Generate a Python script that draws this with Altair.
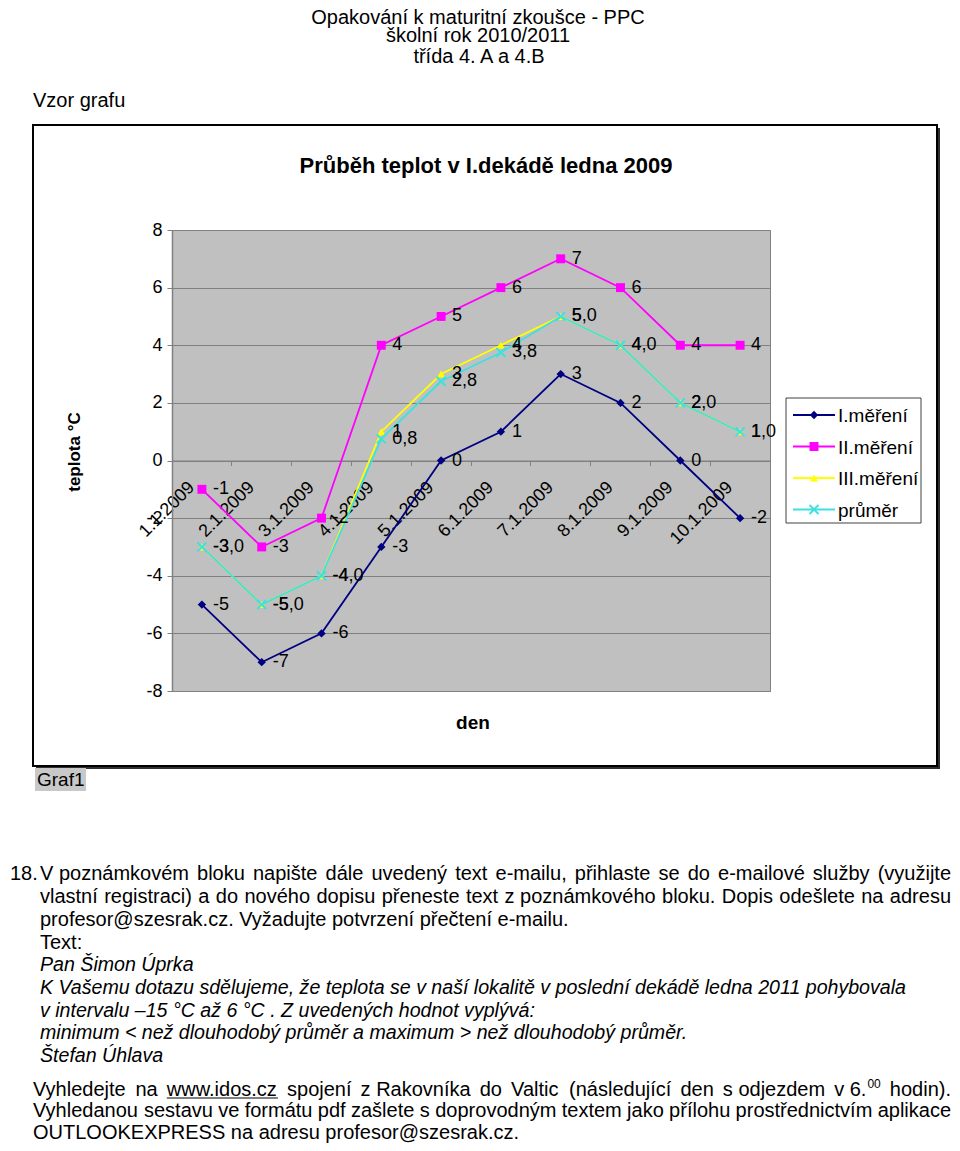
import altair as alt
import pandas as pd

# ---------------- data ----------------
days = ["1.1.2009", "2.1.2009", "3.1.2009", "4.1.2009", "5.1.2009",
        "6.1.2009", "7.1.2009", "8.1.2009", "9.1.2009", "10.1.2009"]
series_names = ["I.měření", "II.měření", "III.měření", "průměr"]
mereni_1 = [-5, -7, -6, -3, 0, 1, 3, 2, 0, -2]
mereni_2 = [-1, -3, -2, 4, 5, 6, 7, 6, 4, 4]
mereni_3 = [-3, -5, -4, 1, 3, 4, 5, 4, 2, 1]
prumer = [-3.0, -5.0, -4.0, 0.75, 2.75, 3.75, 5.0, 4.0, 2.0, 1.0]
y_ticks = [-8, -6, -4, -2, 0, 2, 4, 6, 8]

colors = ["#000080", "#FF00FF", "#FFFF00", "#3EE0E0"]
X_PATH = "M-1,-1L1,1M-1,1L1,-1"
shapes = ["diamond", "square", "triangle-up", X_PATH]
sizes = [70, 80, 65, 80]
filled = [True, True, True, False]

FONT = "Liberation Sans"

rows = []
for k, (name, vals) in enumerate(zip(series_names, [mereni_1, mereni_2, mereni_3, prumer])):
    for d, v in zip(days, vals):
        lab = (f"{v:.1f}".replace(".", ",")) if name == "průměr" else str(int(v))
        rows.append({"day": d, "series": name, "value": v, "label": lab, "k": k})
df = pd.DataFrame(rows)
dummy = pd.DataFrame({"a": [0]})

# ---------------- geometry (page pixels -> plot-relative) ----------------
P0X, P0Y = 172, 230
W, H = 598, 461
TOTAL_W, TOTAL_H = 944, 1135
RIGHT = 951  # right edge of justified text (page px)


def px(x):
    return x - P0X


def py(y):
    return y - P0Y


X = alt.X("day:N", sort=days,
          scale=alt.Scale(type="band", paddingInner=0, paddingOuter=0),
          axis=alt.Axis(orient="bottom", offset=-H / 2, labelAngle=315,
                        labelAlign="right", labelBaseline="middle",
                        labelFontSize=18, labelFont=FONT, labelColor="black",
                        labelPadding=19, labelOffset=-10, bandPosition=0,
                        tickSize=5, tickColor="#808080", domainColor="#808080",
                        grid=False, title=None, labelOverlap=False))
Y = alt.Y("value:Q",
          scale=alt.Scale(domain=[-8, 8], nice=False, zero=False),
          axis=alt.Axis(values=y_ticks, title=None, tickSize=5, tickColor="#808080",
                        domainColor="#808080", domainWidth=1.5, labelFontSize=18,
                        labelFont=FONT, labelColor="black", labelPadding=5,
                        labelExpr="'' + datum.value",
                        grid=True, gridColor="#808080", gridWidth=1))


def txt(text, x, y, size=20, weight="normal", style="normal", align="left",
        angle=0, baseline="alphabetic"):
    return alt.Chart(dummy).mark_text(
        text=text, fontSize=size, font=FONT, fontWeight=weight, fontStyle=style,
        align=align, baseline=baseline, angle=angle, color="black"
    ).encode(x=alt.value(px(x)), y=alt.value(py(y)))


def rect(x1, y1, x2, y2, **kw):
    return alt.Chart(dummy).mark_rect(**kw).encode(
        x=alt.value(px(x1)), x2=alt.value(px(x2)),
        y=alt.value(py(y1)), y2=alt.value(py(y2)))


def hrule(x1, x2, y, color, w):
    return alt.Chart(dummy).mark_rule(color=color, strokeWidth=w).encode(
        x=alt.value(px(x1)), x2=alt.value(px(x2)), y=alt.value(py(y)))


def vrule(x, y1, y2, color, w):
    return alt.Chart(dummy).mark_rule(color=color, strokeWidth=w).encode(
        x=alt.value(px(x)), y=alt.value(py(y1)), y2=alt.value(py(y2)))


# Arial / Liberation Sans advance widths (1/1000 em) for text justification
AW = {" ": 278, ".": 278, ",": 278, "-": 333, "(": 333, ")": 333, "@": 1015,
      ":": 278, "/": 278}
for ch in "0123456789":
    AW[ch] = 556
AW.update(dict(zip("abcdefghijklmnopqrstuvwxyz",
                   [556, 556, 500, 556, 556, 278, 556, 556, 222, 222, 500, 222, 833,
                    556, 556, 556, 556, 333, 500, 278, 556, 500, 722, 500, 500, 500])))
AW.update(dict(zip("ABCDEFGHIJKLMNOPQRSTUVWXYZ",
                   [667, 667, 722, 722, 667, 611, 778, 722, 278, 500, 667, 556, 833,
                    722, 778, 667, 778, 722, 667, 611, 722, 667, 944, 667, 667, 611])))
AW.update({"á": 556, "é": 556, "ě": 556, "í": 278, "ý": 500, "ů": 556, "ú": 556,
           "ř": 333, "š": 500, "ž": 500, "č": 500, "ň": 556})


def tw(s, fs):
    return sum(AW.get(c, 556) for c in s) * fs / 1000.0


def justified(tokens, x0, x1, y, fs=20, style="normal"):
    out = []
    sup = "^00"
    widths = []
    for t in tokens:
        if t.endswith(sup):
            widths.append(tw(t[:-3], fs) + 1 + tw("00", 12))
        else:
            widths.append(tw(t, fs))
    gap = (x1 - x0 - sum(widths)) / (len(tokens) - 1)
    x = x0
    pos = {}
    for t, wd in zip(tokens, widths):
        if t.endswith(sup):
            out.append(txt(t[:-3], x, y, size=fs, style=style))
            out.append(txt("00", x + tw(t[:-3], fs) + 1, y - 8, size=12, style=style))
        else:
            out.append(txt(t, x, y, size=fs, style=style))
        pos[t] = (x, x + wd)
        x += wd + gap
    return out, pos


layers = []

# chart frame with shadow
layers.append(rect(33, 125, 937, 766, fillOpacity=0, stroke="black", strokeWidth=2))
layers.append(vrule(939, 128, 768, "#303030", 2))
layers.append(hrule(36, 940, 768, "#303030", 2))

# series lines + markers
for k, name in enumerate(series_names):
    sub = df[df["series"] == name]
    base = alt.Chart(sub)
    layers.append(base.mark_line(color=colors[k], strokeWidth=1.8).encode(x=X, y=Y))
    pm = base.mark_point(shape=shapes[k], size=sizes[k], filled=filled[k],
                         color=colors[k], opacity=1,
                         strokeWidth=2 if not filled[k] else 1)
    layers.append(pm.encode(x=X, y=Y))

# data labels
layers.append(alt.Chart(df).mark_text(
    align="left", baseline="middle", dx=11, fontSize=18, font=FONT, color="black"
).encode(x=X, y=Y, text="label:N"))

# legend
layers.append(rect(786, 398, 921, 523, fill="white", stroke="#404040", strokeWidth=1))
leg_y = [415, 446.5, 478, 509.5]
for k, name in enumerate(series_names):
    layers.append(hrule(793, 835, leg_y[k], colors[k], 1.8))
    layers.append(alt.Chart(dummy).mark_point(
        shape=shapes[k], size=sizes[k], filled=filled[k], color=colors[k], opacity=1,
        strokeWidth=2 if not filled[k] else 1
    ).encode(x=alt.value(px(814)), y=alt.value(py(leg_y[k]))))
    layers.append(txt(name, 838, leg_y[k] + 7, size=19))

# titles
layers.append(txt("Průběh teplot v I.dekádě ledna 2009", 486, 173, size=22,
                  weight="bold", align="center"))
layers.append(txt("teplota °C", 75, 452, size=17, weight="bold", align="center",
                  angle=270, baseline="middle"))
layers.append(txt("den", 473, 729, size=19, weight="bold", align="center"))

# Graf1 tag
layers.append(rect(35, 768, 86, 791, fill="#C8C8C8"))
layers.append(txt("Graf1", 37, 786, size=19))

# page header
layers.append(txt("Opakování k maturitní zkoušce - PPC", 478, 24, align="center"))
layers.append(txt("školní rok 2010/2011", 478, 42, align="center"))
layers.append(txt("třída 4. A a 4.B", 479, 63, align="center"))
layers.append(txt("Vzor grafu", 33, 107))

# body text
IND = 40
layers.append(txt("18.", 10, 880))
l1 = ["V poznámkovém", "bloku", "napište", "dále", "uvedený", "text", "e-mailu,",
      "přihlaste", "se", "do", "e-mailové", "služby", "(využijte"]
l2 = ["vlastní", "registraci)", "a", "do", "nového", "dopisu", "přeneste", "text",
      "z poznámkového", "bloku.", "Dopis", "odešlete", "na", "adresu"]
lay, _ = justified(l1, IND, RIGHT, 880)
layers += lay
lay, _ = justified(l2, IND, RIGHT, 903)
layers += lay

plain = [
    ("profesor@szesrak.cz. Vyžadujte potvrzení přečtení e-mailu.", 926, "normal"),
    ("Text:", 949, "normal"),
    ("Pan Šimon Úprka", 971, "italic"),
    ("K Vašemu dotazu sdělujeme, že teplota se v naší lokalitě v poslední dekádě ledna 2011 pohybovala", 994, "italic"),
    ("v intervalu –15 °C až 6 °C . Z uvedených hodnot vyplývá:", 1017, "italic"),
    ("minimum < než dlouhodobý průměr a maximum > než dlouhodobý průměr.", 1039, "italic"),
    ("Štefan Úhlava", 1062, "italic"),
]
for t, y, st in plain:
    layers.append(txt(t, IND, y, style=st, size=19.6 if st == "italic" else 20))

l10 = ["Vyhledejte", "na", "www.idos.cz", "spojení", "z Rakovníka", "do", "Valtic",
       "(následující", "den", "s odjezdem", "v 6.^00", "hodin)."]
l11 = ["Vyhledanou", "sestavu", "ve", "formátu", "pdf", "zašlete", "s doprovodným",
       "textem", "jako", "přílohu", "prostřednictvím", "aplikace"]
lay, pos10 = justified(l10, 33, RIGHT, 1095.5)
layers += lay
ux0, ux1 = pos10["www.idos.cz"]
layers.append(hrule(ux0, ux1, 1098, "black", 1))
lay, _ = justified(l11, 33, RIGHT, 1117)
layers += lay
layers.append(txt("OUTLOOKEXPRESS na adresu profesor@szesrak.cz.", 33, 1138.5))

chart = alt.layer(*layers).properties(
    width=W, height=H,
    autosize=alt.AutoSizeParams(type="none"),
    padding={"left": P0X - 8, "top": P0Y - 8, "right": TOTAL_W - (P0X - 8) - W,
             "bottom": TOTAL_H - (P0Y - 8) - H},
    background="white",
).configure_view(fill="#C0C0C0", stroke="#808080", strokeWidth=1)

chart.save("out.html", embed_options={"renderer": "svg", "actions": False})
